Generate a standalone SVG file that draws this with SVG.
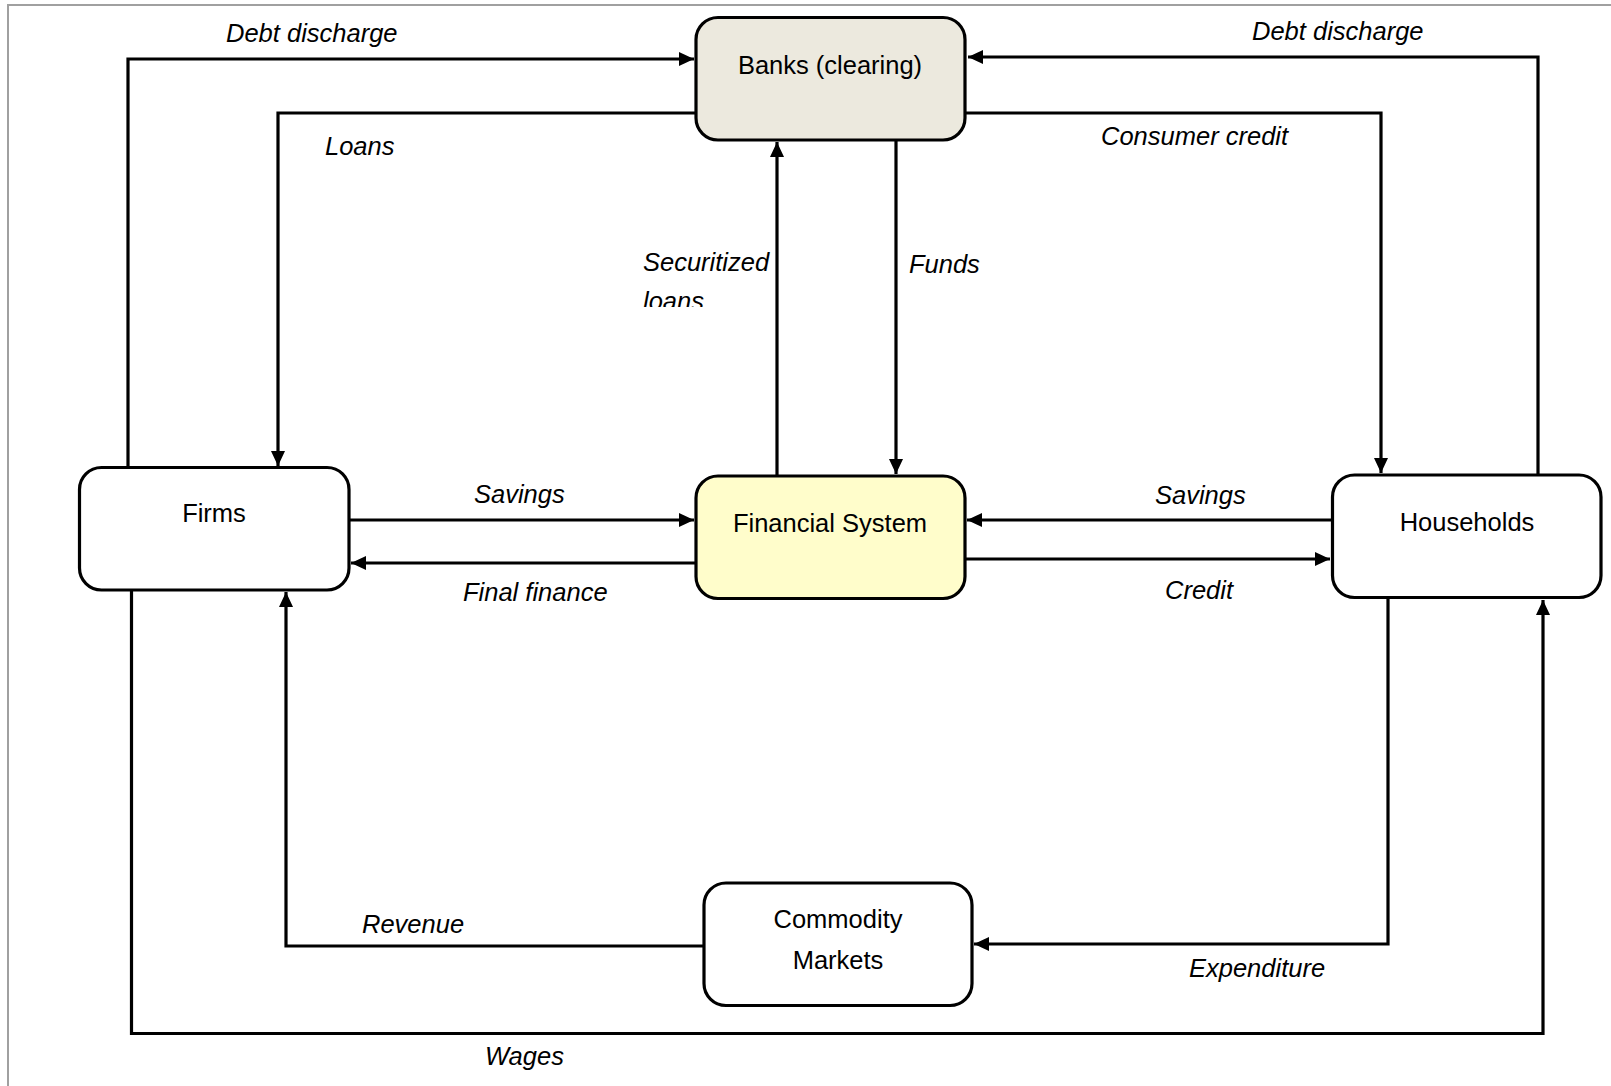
<svg xmlns="http://www.w3.org/2000/svg" width="1611" height="1086" viewBox="0 0 1611 1086">
<style>
.frame{stroke:#a0a0a0;stroke-width:2;fill:none}
.box{stroke:#000;stroke-width:3.2;fill:#fff}
.banks{fill:#ECE9DE}
.fin{fill:#FFFDCB}
.wire{stroke:#000;stroke-width:3.2;fill:none}
.node{font-family:"Liberation Sans",Arial,sans-serif;font-size:25.5px;fill:#000;text-anchor:middle}
.lbl{font-family:"Liberation Sans",Arial,sans-serif;font-size:25.5px;font-style:italic;fill:#000}
</style>
<defs>
<marker id="ah" markerUnits="userSpaceOnUse" markerWidth="17" markerHeight="16" refX="15" refY="8" orient="auto">
<path d="M0,1 L15,8 L0,15 Z" fill="#000"/>
</marker>
<clipPath id="secclip"><rect x="600" y="240" width="175" height="67"/></clipPath>
</defs>
<rect width="1611" height="1086" fill="#fff"/>
<path class="frame" d="M8,1086 V5 H1611"/>
<g id="connectors">
<path class="wire" d="M128,467 V59 H694" marker-end="url(#ah)"/>
<path class="wire" d="M696,113 H278 V466" marker-end="url(#ah)"/>
<path class="wire" d="M1538,474 V57 H968" marker-end="url(#ah)"/>
<path class="wire" d="M966,113 H1381 V473" marker-end="url(#ah)"/>
<path class="wire" d="M777,475 V142" marker-end="url(#ah)"/>
<path class="wire" d="M896,140 V474" marker-end="url(#ah)"/>
<path class="wire" d="M349,520 H694" marker-end="url(#ah)"/>
<path class="wire" d="M696,563 H351" marker-end="url(#ah)"/>
<path class="wire" d="M1332,520 H967" marker-end="url(#ah)"/>
<path class="wire" d="M965,559 H1330" marker-end="url(#ah)"/>
<path class="wire" d="M131.5,590 V1033.5 H1543 V600" marker-end="url(#ah)"/>
<path class="wire" d="M704,946 H286 V592" marker-end="url(#ah)"/>
<path class="wire" d="M1388,598 V944 H974" marker-end="url(#ah)"/>
<text class="lbl" x="226" y="42">Debt discharge</text>
<text class="lbl" x="1252" y="40">Debt discharge</text>
<text class="lbl" x="325" y="155">Loans</text>
<text class="lbl" x="1101" y="145">Consumer credit</text>
<g clip-path="url(#secclip)">
<text class="lbl" x="643" y="271">Securitized</text>
<text class="lbl" x="643" y="310">loans</text>
</g>
<text class="lbl" x="909" y="273">Funds</text>
<text class="lbl" x="474" y="503">Savings</text>
<text class="lbl" x="463" y="601">Final finance</text>
<text class="lbl" x="1155" y="504">Savings</text>
<text class="lbl" x="1165" y="599">Credit</text>
<text class="lbl" x="362" y="933">Revenue</text>
<text class="lbl" x="1189" y="977">Expenditure</text>
<text class="lbl" x="485" y="1065">Wages</text>
</g>
<g id="banks">
<rect class="box banks" x="696" y="17.5" width="269" height="122.5" rx="22"/>
<text class="node" x="830" y="74">Banks (clearing)</text>
</g>
<g id="financial-system">
<rect class="box fin" x="696" y="476" width="269" height="122.5" rx="22"/>
<text class="node" x="830" y="532">Financial System</text>
</g>
<g id="firms">
<rect class="box" x="79.5" y="467.5" width="269.5" height="122.5" rx="22"/>
<text class="node" x="214" y="522">Firms</text>
</g>
<g id="households">
<rect class="box" x="1332.5" y="475" width="268.5" height="122.5" rx="22"/>
<text class="node" x="1467" y="531">Households</text>
</g>
<g id="commodity-markets">
<rect class="box" x="704" y="883" width="268" height="122.5" rx="22"/>
<text class="node" x="838" y="928">Commodity</text>
<text class="node" x="838" y="969">Markets</text>
</g>
</svg>
